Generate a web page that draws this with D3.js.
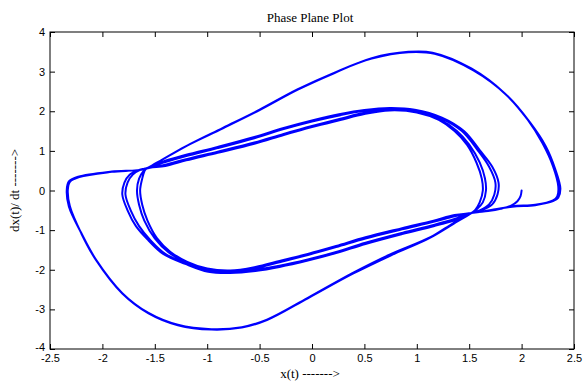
<!DOCTYPE html>
<html>
<head>
<meta charset="utf-8">
<script src="https://cdn.jsdelivr.net/npm/d3@7"></script>
<style>
  html, body { margin: 0; padding: 0; background: #ffffff; }
  svg { display: block; }
</style>
</head>
<body>
<svg id="chart" width="583" height="381"></svg>
<script>
// ---------------- data ----------------
const xTicks = [-2.5, -2, -1.5, -1, -0.5, 0, 0.5, 1, 1.5, 2, 2.5];
const yTicks = [-4, -3, -2, -1, 0, 1, 2, 3, 4];
const titleText = "Phase Plane Plot";
const xLabelText = "x(t) ------->";
const yLabelText = "dx(t)/ dt ------->";

// trajectory pieces, [x(t), dx/dt], in time order
const startSeg = [[2.0,0.0],[1.99,-0.14],[1.96,-0.27],[1.9,-0.38],[1.8,-0.46],[1.68,-0.52]];

const innerWide1 = [[1.52,-0.57],[1.36,-0.75],[1.16,-0.9],[0.86,-1.1],[0.51,-1.35],[0.23,-1.58],[-0.04,-1.77],[-0.31,-1.93],[-0.54,-2.03],[-0.78,-2.08],[-0.99,-2.05],[-1.21,-1.85],[-1.42,-1.6],[-1.56,-1.26],[-1.68,-0.9],[-1.76,-0.5],[-1.81,-0.1],[-1.79,0.2],[-1.74,0.4],[-1.65,0.52],[-1.58,0.56],[-1.4,0.75],[-1.2,0.9],[-0.9,1.1],[-0.55,1.35],[-0.27,1.58],[0.0,1.77],[0.27,1.93],[0.5,2.03],[0.74,2.08],[0.98,2.04],[1.24,1.84],[1.45,1.5],[1.6,1.02],[1.72,0.6],[1.78,0.2],[1.77,-0.1],[1.72,-0.35],[1.62,-0.5]];

const outerLoop1 = [[1.52,-0.57],[1.35,-0.82],[1.13,-1.18],[0.74,-1.62],[0.39,-2.08],[-0.04,-2.71],[-0.43,-3.26],[-0.67,-3.45],[-0.96,-3.5],[-1.28,-3.39],[-1.56,-3.09],[-1.81,-2.59],[-2.06,-1.75],[-2.2,-1.08],[-2.32,-0.4],[-2.34,0.02],[-2.32,0.23],[-2.23,0.35],[-1.91,0.48],[-1.6,0.54],[-1.49,0.69],[-1.21,1.11],[-0.85,1.57],[-0.5,2.03],[-0.14,2.54],[0.21,2.96],[0.57,3.34],[0.92,3.5],[1.15,3.48],[1.52,3.08],[1.84,2.45],[2.06,1.78],[2.2,1.19],[2.3,0.61],[2.35,0.1],[2.34,-0.15],[2.3,-0.25],[2.13,-0.36],[1.91,-0.4],[1.63,-0.53]];

const innerWide2 = [[1.52,-0.57],[1.36,-0.72],[1.16,-0.87],[0.86,-1.07],[0.51,-1.32],[0.23,-1.55],[-0.04,-1.74],[-0.31,-1.9],[-0.54,-2.0],[-0.78,-2.06],[-0.99,-2.03],[-1.2,-1.84],[-1.4,-1.6],[-1.54,-1.26],[-1.65,-0.9],[-1.73,-0.5],[-1.78,-0.1],[-1.76,0.2],[-1.71,0.4],[-1.64,0.52],[-1.58,0.56],[-1.4,0.72],[-1.2,0.87],[-0.9,1.07],[-0.55,1.32],[-0.27,1.55],[0.0,1.74],[0.27,1.9],[0.5,2.01],[0.74,2.07],[0.98,2.02],[1.23,1.82],[1.43,1.5],[1.58,1.02],[1.69,0.6],[1.75,0.2],[1.74,-0.1],[1.69,-0.35],[1.6,-0.5]];

const innerNarrow1 = [[1.52,-0.57],[1.36,-0.65],[1.16,-0.79],[0.86,-0.98],[0.51,-1.21],[0.23,-1.43],[-0.04,-1.63],[-0.31,-1.81],[-0.54,-1.96],[-0.78,-2.04],[-1.0,-1.99],[-1.2,-1.81],[-1.37,-1.56],[-1.5,-1.21],[-1.6,-0.76],[-1.65,-0.36],[-1.67,0.0],[-1.65,0.3],[-1.61,0.48],[-1.58,0.55],[-1.4,0.65],[-1.2,0.79],[-0.9,0.98],[-0.55,1.21],[-0.27,1.43],[0.0,1.63],[0.27,1.81],[0.5,1.96],[0.74,2.04],[1.0,1.99],[1.22,1.79],[1.38,1.51],[1.5,1.16],[1.6,0.71],[1.65,0.31],[1.66,0.0],[1.63,-0.3],[1.57,-0.48]];

const outerLoop2 = [[1.52,-0.57],[1.35,-0.84],[1.12,-1.2],[0.75,-1.64],[0.39,-2.1],[-0.04,-2.72],[-0.43,-3.27],[-0.67,-3.46],[-0.96,-3.51],[-1.28,-3.4],[-1.56,-3.1],[-1.81,-2.6],[-2.06,-1.76],[-2.2,-1.09],[-2.31,-0.4],[-2.33,0.02],[-2.31,0.22],[-2.22,0.34],[-1.91,0.47],[-1.6,0.54],[-1.48,0.7],[-1.2,1.12],[-0.85,1.58],[-0.5,2.04],[-0.14,2.55],[0.21,2.97],[0.57,3.33],[0.92,3.49],[1.17,3.45],[1.54,3.03],[1.86,2.4],[2.08,1.72],[2.23,1.12],[2.32,0.55],[2.37,0.05],[2.35,-0.18],[2.3,-0.27],[2.13,-0.37],[1.91,-0.41],[1.63,-0.53]];

const innerNarrow2 = [[1.52,-0.57],[1.36,-0.62],[1.16,-0.76],[0.86,-0.95],[0.51,-1.18],[0.23,-1.4],[-0.04,-1.6],[-0.31,-1.78],[-0.54,-1.93],[-0.78,-2.02],[-1.0,-1.97],[-1.19,-1.8],[-1.35,-1.55],[-1.48,-1.2],[-1.57,-0.76],[-1.62,-0.36],[-1.64,0.0],[-1.62,0.3],[-1.6,0.48],[-1.58,0.55],[-1.4,0.62],[-1.2,0.76],[-0.9,0.95],[-0.55,1.18],[-0.27,1.4],[0.0,1.6],[0.27,1.78],[0.5,1.93],[0.74,2.02],[1.0,1.97],[1.21,1.78],[1.36,1.5],[1.48,1.15],[1.57,0.7],[1.62,0.3],[1.63,0.0],[1.6,-0.3],[1.56,-0.48],[1.52,-0.57]];

// ---------------- drawing ----------------
const trajectory = [].concat(startSeg, innerWide1, outerLoop1, innerWide2, innerNarrow1, outerLoop2, innerNarrow2);

const svg = d3.select("#chart");
const W = 583, H = 381;
const plot = { left: 50, right: 574, top: 32, bottom: 349 };

svg.append("rect").attr("x", 0).attr("y", 0).attr("width", W).attr("height", H).attr("fill", "#ffffff");

const x = d3.scaleLinear().domain([-2.5, 2.5]).range([plot.left, plot.right]);
const y = d3.scaleLinear().domain([-4, 4]).range([plot.bottom, plot.top]);

const fmt = d => String(d);
const tickFont = "Liberation Sans, Arial, Helvetica, sans-serif";
const serifFont = "Liberation Serif, Times New Roman, Times, serif";

// bottom axis
const gx = svg.append("g").attr("transform", `translate(0,${plot.bottom})`)
  .call(d3.axisBottom(x).tickValues(xTicks).tickFormat(fmt).tickSizeInner(-5).tickSizeOuter(0).tickPadding(5));
// top axis (ticks only)
const gxt = svg.append("g").attr("transform", `translate(0,${plot.top})`)
  .call(d3.axisTop(x).tickValues(xTicks).tickFormat("").tickSizeInner(-5).tickSizeOuter(0));
// left axis
const gy = svg.append("g").attr("transform", `translate(${plot.left},0)`)
  .call(d3.axisLeft(y).tickValues(yTicks).tickFormat(fmt).tickSizeInner(-5).tickSizeOuter(0).tickPadding(5));
// right axis (ticks only)
const gyr = svg.append("g").attr("transform", `translate(${plot.right},0)`)
  .call(d3.axisRight(y).tickValues(yTicks).tickFormat("").tickSizeInner(-5).tickSizeOuter(0));

[gx, gxt, gy, gyr].forEach(g => {
  g.select(".domain").remove();
  g.selectAll(".tick line").attr("stroke", "#000").attr("stroke-width", 1);
  g.selectAll("text").attr("fill", "#000").style("font-family", tickFont).style("font-size", "11px");
});
// lowest y label sits slightly higher, as in the reference
gy.selectAll(".tick").filter(d => d === -4).select("text").attr("dy", "0.1em");

// trajectory
const line = d3.line()
  .x(d => x(d[0]))
  .y(d => y(d[1]))
  .curve(d3.curveCatmullRom.alpha(0.5));

svg.append("path")
  .datum(trajectory)
  .attr("d", line)
  .attr("fill", "none")
  .attr("stroke", "#0000ff")
  .attr("stroke-width", 2)
  .attr("stroke-linejoin", "round")
  .attr("stroke-linecap", "round");

// axes box
svg.append("rect")
  .attr("x", plot.left).attr("y", plot.top)
  .attr("width", plot.right - plot.left).attr("height", plot.bottom - plot.top)
  .attr("fill", "none").attr("stroke", "#000").attr("stroke-width", 1);

// title
svg.append("text")
  .attr("x", (plot.left + plot.right) / 2 - 2).attr("y", 22)
  .attr("text-anchor", "middle")
  .style("font-family", serifFont).style("font-size", "13px")
  .attr("fill", "#000")
  .text(titleText);

// x label
svg.append("text")
  .attr("x", (plot.left + plot.right) / 2 - 2).attr("y", 378)
  .attr("text-anchor", "middle")
  .style("font-family", serifFont).style("font-size", "13px")
  .attr("fill", "#000")
  .text(xLabelText);

// y label
svg.append("text")
  .attr("transform", `translate(19,${(plot.top + plot.bottom) / 2}) rotate(-90)`)
  .attr("text-anchor", "middle")
  .style("font-family", serifFont).style("font-size", "13px")
  .attr("fill", "#000")
  .text(yLabelText);
</script>
</body>
</html>
